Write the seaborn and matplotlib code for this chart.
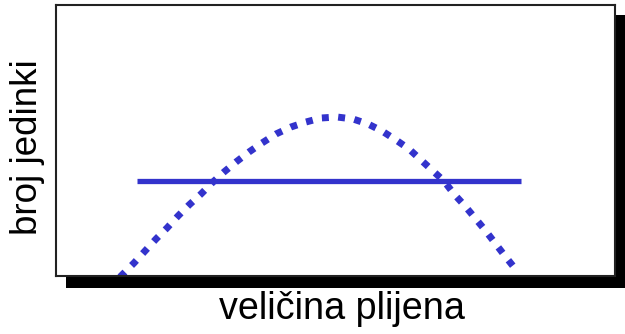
import seaborn as sns
import matplotlib.pyplot as plt
from matplotlib.patches import Rectangle

# dotted hump: number of individuals vs prey size
hump_x = [64, 78, 89, 100, 111, 122, 133, 145, 157, 168, 180, 193, 206, 220, 235, 250, 265,
          281, 297, 312, 326, 340, 353, 365, 377, 388, 398, 409, 419, 429, 439, 449, 461]
hump_y = [-1, 13, 25, 37, 48, 60, 71, 82, 94, 104, 114, 124, 133, 142, 149, 154, 158,
          159, 157, 152, 145, 136, 127, 116, 105, 95, 82, 70, 58, 46, 33, 20, 5]

# flat line
flat_x = [81, 465]
flat_y = [95, 95]

blue = '#3333CC'

sns.set_style('white')
plt.rcParams['font.family'] = ['Liberation Sans', 'DejaVu Sans']

fig = plt.figure(figsize=(6.25, 3.34), dpi=100)
fig.patches.append(Rectangle((66 / 625, 46 / 334), 1.0, 273 / 334,
                             transform=fig.transFigure, facecolor='black',
                             edgecolor='none', zorder=0))
ax = fig.add_axes([56 / 625, 58 / 334, 559 / 625, 271 / 334])
ax.set_facecolor('white')
ax.set_zorder(1)

sns.lineplot(x=flat_x, y=flat_y, ax=ax, color=blue, linewidth=3.8,
             solid_capstyle='butt')
sns.lineplot(x=hump_x, y=hump_y, ax=ax, color=blue, linewidth=5,
             linestyle=(0, (1, 1.35)), sort=False)

ax.set_xlim(0, 559)
ax.set_ylim(0, 271)
ax.set_xticks([])
ax.set_yticks([])
for s in ax.spines.values():
    s.set_visible(True)
    s.set_color('#222222')
    s.set_linewidth(1.5)

ax.set_xlabel('veličina plijena', fontsize=27.2, color='black', labelpad=11)
ax.set_ylabel('broj jedinki', fontsize=26.5, color='black', labelpad=8)
ax.xaxis.label.set_x(0.511)
ax.yaxis.label.set_y(0.474)

fig.savefig('out.png', dpi=100)
